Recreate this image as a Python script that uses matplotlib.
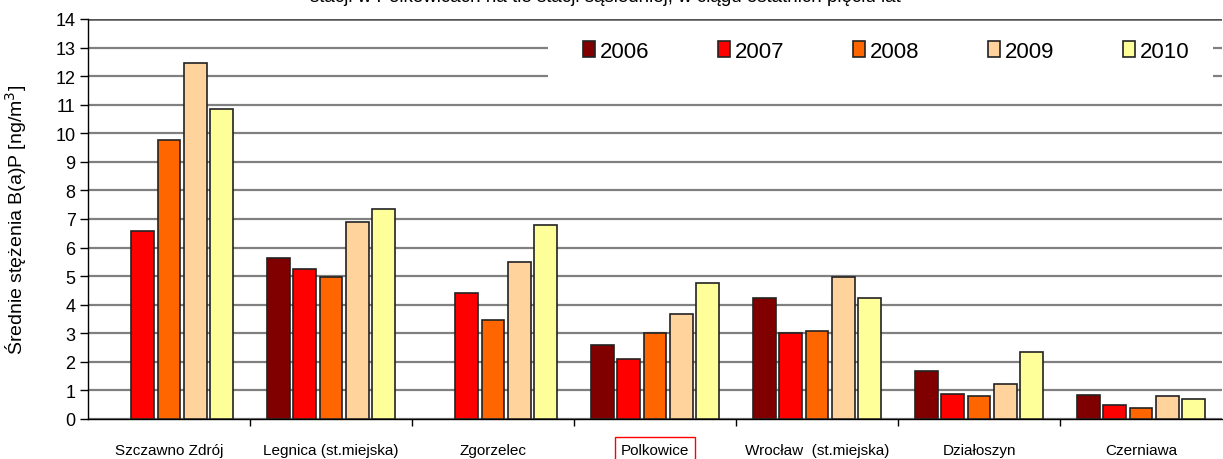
import matplotlib
matplotlib.use("Agg")
import matplotlib.pyplot as plt
import numpy as np
from matplotlib.patches import Rectangle

plt.rcParams['font.family'] = ['Liberation Sans', 'DejaVu Sans']

stations = ["Szczawno Zdrój", "Legnica (st.miejska)", "Zgorzelec", "Polkowice",
            "Wrocław  (st.miejska)", "Działoszyn", "Czerniawa"]
years = ["2006", "2007", "2008", "2009", "2010"]
v2006 = [np.nan, 5.63, np.nan, 2.60, 4.25, 1.68, 0.85]
v2007 = [6.57, 5.24, 4.41, 2.09, 3.01, 0.86, 0.49]
v2008 = [9.78, 4.97, 3.48, 3.01, 3.07, 0.81, 0.38]
v2009 = [12.45, 6.88, 5.50, 3.67, 4.96, 1.22, 0.80]
v2010 = [10.85, 7.34, 6.78, 4.77, 4.25, 2.34, 0.70]
series = [v2006, v2007, v2008, v2009, v2010]
colors = ["#800000", "#FF0000", "#FF6600", "#FFD39B", "#FFFF99"]

fig = plt.figure(figsize=(12.23, 4.6), dpi=100)
ax = fig.add_axes([88/1223, 40/460, 1134/1223, 400/460])

x = np.arange(len(stations))
pitch = 0.162
width = 0.14
for i, (vals, c, yr) in enumerate(zip(series, colors, years)):
    ax.bar(x + (i - 2) * pitch, vals, width=width, color=c, edgecolor="#222222",
           linewidth=1.2, label=yr, zorder=3)

ax.set_xlim(-0.5, len(stations) - 0.5)
ax.set_ylim(0, 14)
ax.set_yticks(range(0, 15))
ax.tick_params(axis='y', labelsize=13, length=6, width=1, direction='out', pad=3)
ax.yaxis.grid(True, color="#808080", linewidth=1.6, zorder=0)
ax.set_axisbelow(True)

ax.set_xticks(x)
ax.set_xticklabels(stations, fontsize=11)
ax.set_xticks(np.arange(0.5, len(stations) - 0.5, 1), minor=True)
ax.tick_params(axis='x', which='major', length=0, pad=17)
ax.tick_params(axis='x', which='minor', length=5, width=1, direction='out')

for lbl in ax.get_xticklabels():
    if lbl.get_text() == "Polkowice":
        lbl.set_bbox(dict(facecolor='none', edgecolor='#FF0000', linewidth=1, pad=4))

for s in ['top', 'right']:
    ax.spines[s].set_visible(False)
ax.spines['left'].set_linewidth(1)
ax.spines['bottom'].set_linewidth(1)
ax.axhline(14, color="#555555", linewidth=1.8, zorder=1)

ax.set_ylabel("Średnie stężenia B(a)P [ng/m$^3$]", fontsize=14)
ax.yaxis.set_label_coords(-0.052, 0.5)

# white legend area
ax.add_patch(Rectangle(((548-88)/1134, (420-95)/400), (1213-548)/1134, 65/400,
                       transform=ax.transAxes, facecolor='white', edgecolor='none', zorder=2))
leg = ax.legend(ncol=5, loc='center', bbox_to_anchor=((886-88)/1134, (420-52)/400),
                frameon=False, fontsize=16, handlelength=0.55, handleheight=0.75,
                handletextpad=0.2, columnspacing=3.1)
leg.set_zorder(5)

fig.text(605/1223, 1 - 1.5/460,
         "stacji w Polkowicach na tle stacji sąsiedniej, w ciągu ostatnich pięciu lat",
         ha='center', va='baseline', fontsize=13.5)

fig.savefig("out.png", dpi=100)
